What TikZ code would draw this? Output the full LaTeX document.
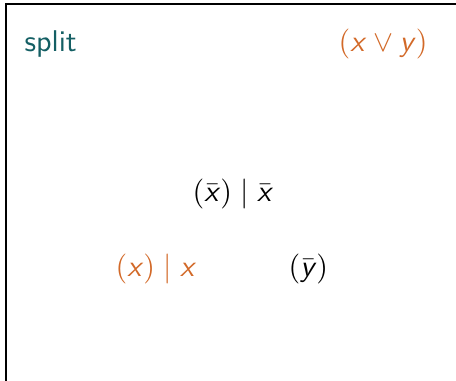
\documentclass[tikz,border=0pt]{standalone}
\usepackage{amsmath, amssymb}
\usepackage{tikz}

\definecolor{splitteal}{RGB}{20,95,100}
\definecolor{litorange}{RGB}{210,105,40}
\newcommand{\vx}{\textsf{\itshape x}}
\newcommand{\vy}{\textsf{\itshape y}}

\begin{document}
\begin{tikzpicture}[x=0.3333pt, y=-0.3333pt,
    lbl/.style={anchor=base west, inner sep=0pt, font=\sffamily},
    lit/.style={lbl, text=litorange}]
    \useasboundingbox (0,0) rectangle (456,381);
    \draw[line width=0.7pt] (6,381) -- (6,4) -- (460,4);
    \node[lbl, text=splitteal] (split) at (24,52) {split};
    \node[lit] (clause) at (338,52) {$(\text{\vx} \vee \text{\vy})$};
    \node[lbl] (negx) at (192,202) {$(\bar{\text{\vx}}) \mid \bar{\text{\vx}}$};
    \node[lit] (posx) at (115,277) {$(\text{\vx}) \mid \text{\vx}$};
    \node[lbl] (negy) at (288,277) {$(\bar{\text{\vy}})$};
\end{tikzpicture}
\end{document}
